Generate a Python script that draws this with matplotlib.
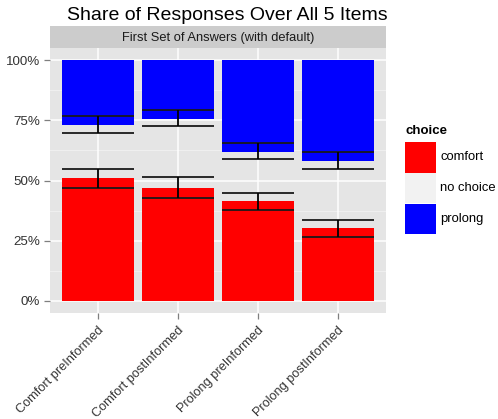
import matplotlib
matplotlib.use("Agg")
import matplotlib.pyplot as plt
from matplotlib.patches import Rectangle
import numpy as np

plt.rcParams['font.family'] = ['Liberation Sans', 'DejaVu Sans']

categories = ["Comfort preInformed", "Comfort postInformed",
              "Prolong preInformed", "Prolong postInformed"]
comfort = [0.509, 0.467, 0.413, 0.301]
no_choice = [0.221, 0.288, 0.204, 0.279]
prolong = [0.270, 0.245, 0.383, 0.420]
comfort_err_low = [0.469, 0.426, 0.376, 0.266]
comfort_err_high = [0.548, 0.513, 0.447, 0.336]
prolong_err_low = [0.698, 0.725, 0.589, 0.549]
prolong_err_high = [0.766, 0.792, 0.655, 0.620]
y_ticks = [0, 0.25, 0.5, 0.75, 1.0]
y_tick_labels = ["0%", "25%", "50%", "75%", "100%"]
legend_labels = ["comfort", "no choice", "prolong"]

W, H = 498, 419
fig = plt.figure(figsize=(W / 100, H / 100), dpi=100)

def fx(px):
    return px / W

def fy(py):
    return 1 - py / H

pl, pr, pt, pb = 50, 386, 48, 313
ax = fig.add_axes([fx(pl), fy(pb), fx(pr - pl), (pb - pt) / H])
ax.set_facecolor('#E5E5E5')
for s in ax.spines.values():
    s.set_visible(False)

x = np.arange(1, len(categories) + 1)
ax.set_xlim(0.4, 4.6)
ax.set_ylim(-0.05, 1.05)

for m in [0.125, 0.375, 0.625, 0.875]:
    ax.axhline(m, color='#F2F2F2', lw=0.6, zorder=0.5)
for t in y_ticks:
    ax.axhline(t, color='white', lw=1.1, zorder=0.6)
for xi in x:
    ax.axvline(xi, color='white', lw=1.1, zorder=0.6)

width = 0.9
c = np.array(comfort)
n = np.array(no_choice)
p = np.array(prolong)
ax.bar(x, c, width=width, color='#FF0000', zorder=2)
ax.bar(x, n, bottom=c, width=width, color='none', zorder=2)
ax.bar(x, p, bottom=c + n, width=width, color='#0000FF', zorder=2)

for lo, hi in [(comfort_err_low, comfort_err_high), (prolong_err_low, prolong_err_high)]:
    for xi, l, h in zip(x, lo, hi):
        ax.hlines([l, h], xi - width / 2, xi + width / 2, color='#1a1a1a', lw=1.3, zorder=3)
        ax.vlines(xi, l, h, color='black', lw=1.3, zorder=3)

ax.set_yticks(y_ticks)
ax.set_yticklabels(y_tick_labels, fontsize=9.6, color='#333333')
ax.set_xticks(x)
ax.set_xticklabels(categories, fontsize=9.2, color='#333333', rotation=45,
                   ha='right', va='top', rotation_mode='anchor')
ax.tick_params(axis='both', length=4, color='#7F7F7F', width=0.9, pad=3)
ax.tick_params(axis='x', pad=4)

# strip
sax = fig.add_axes([fx(pl), fy(pt), fx(pr - pl), (pt - 26) / H])
sax.set_facecolor('#CCCCCC')
sax.set_xticks([]); sax.set_yticks([])
for s in sax.spines.values():
    s.set_visible(False)
sax.text(0.5, 0.45, "First Set of Answers (with default)", ha='center', va='center',
         fontsize=9.3, color='#1a1a1a', transform=sax.transAxes)

fig.text(fx(227), fy(15), "Share of Responses Over All 5 Items",
         ha='center', va='center', fontsize=14, color='black')

# legend
fig.text(fx(405), fy(131), "choice", fontsize=9.5, fontweight='bold', ha='left', va='center')
key_cols = ['#FF0000', '#F2F2F2', '#0000FF']
key_tops = [142, 173, 204]
for col, top, lab in zip(key_cols, key_tops, legend_labels):
    fig.add_artist(Rectangle((fx(405), fy(top + 30.5)), fx(31), 30.5 / H,
                             transform=fig.transFigure, facecolor=col, edgecolor='none'))
    fig.text(fx(440), fy(top + 15), lab, fontsize=9.4, ha='left', va='center', color='black')

fig.savefig("out.png", dpi=100)
